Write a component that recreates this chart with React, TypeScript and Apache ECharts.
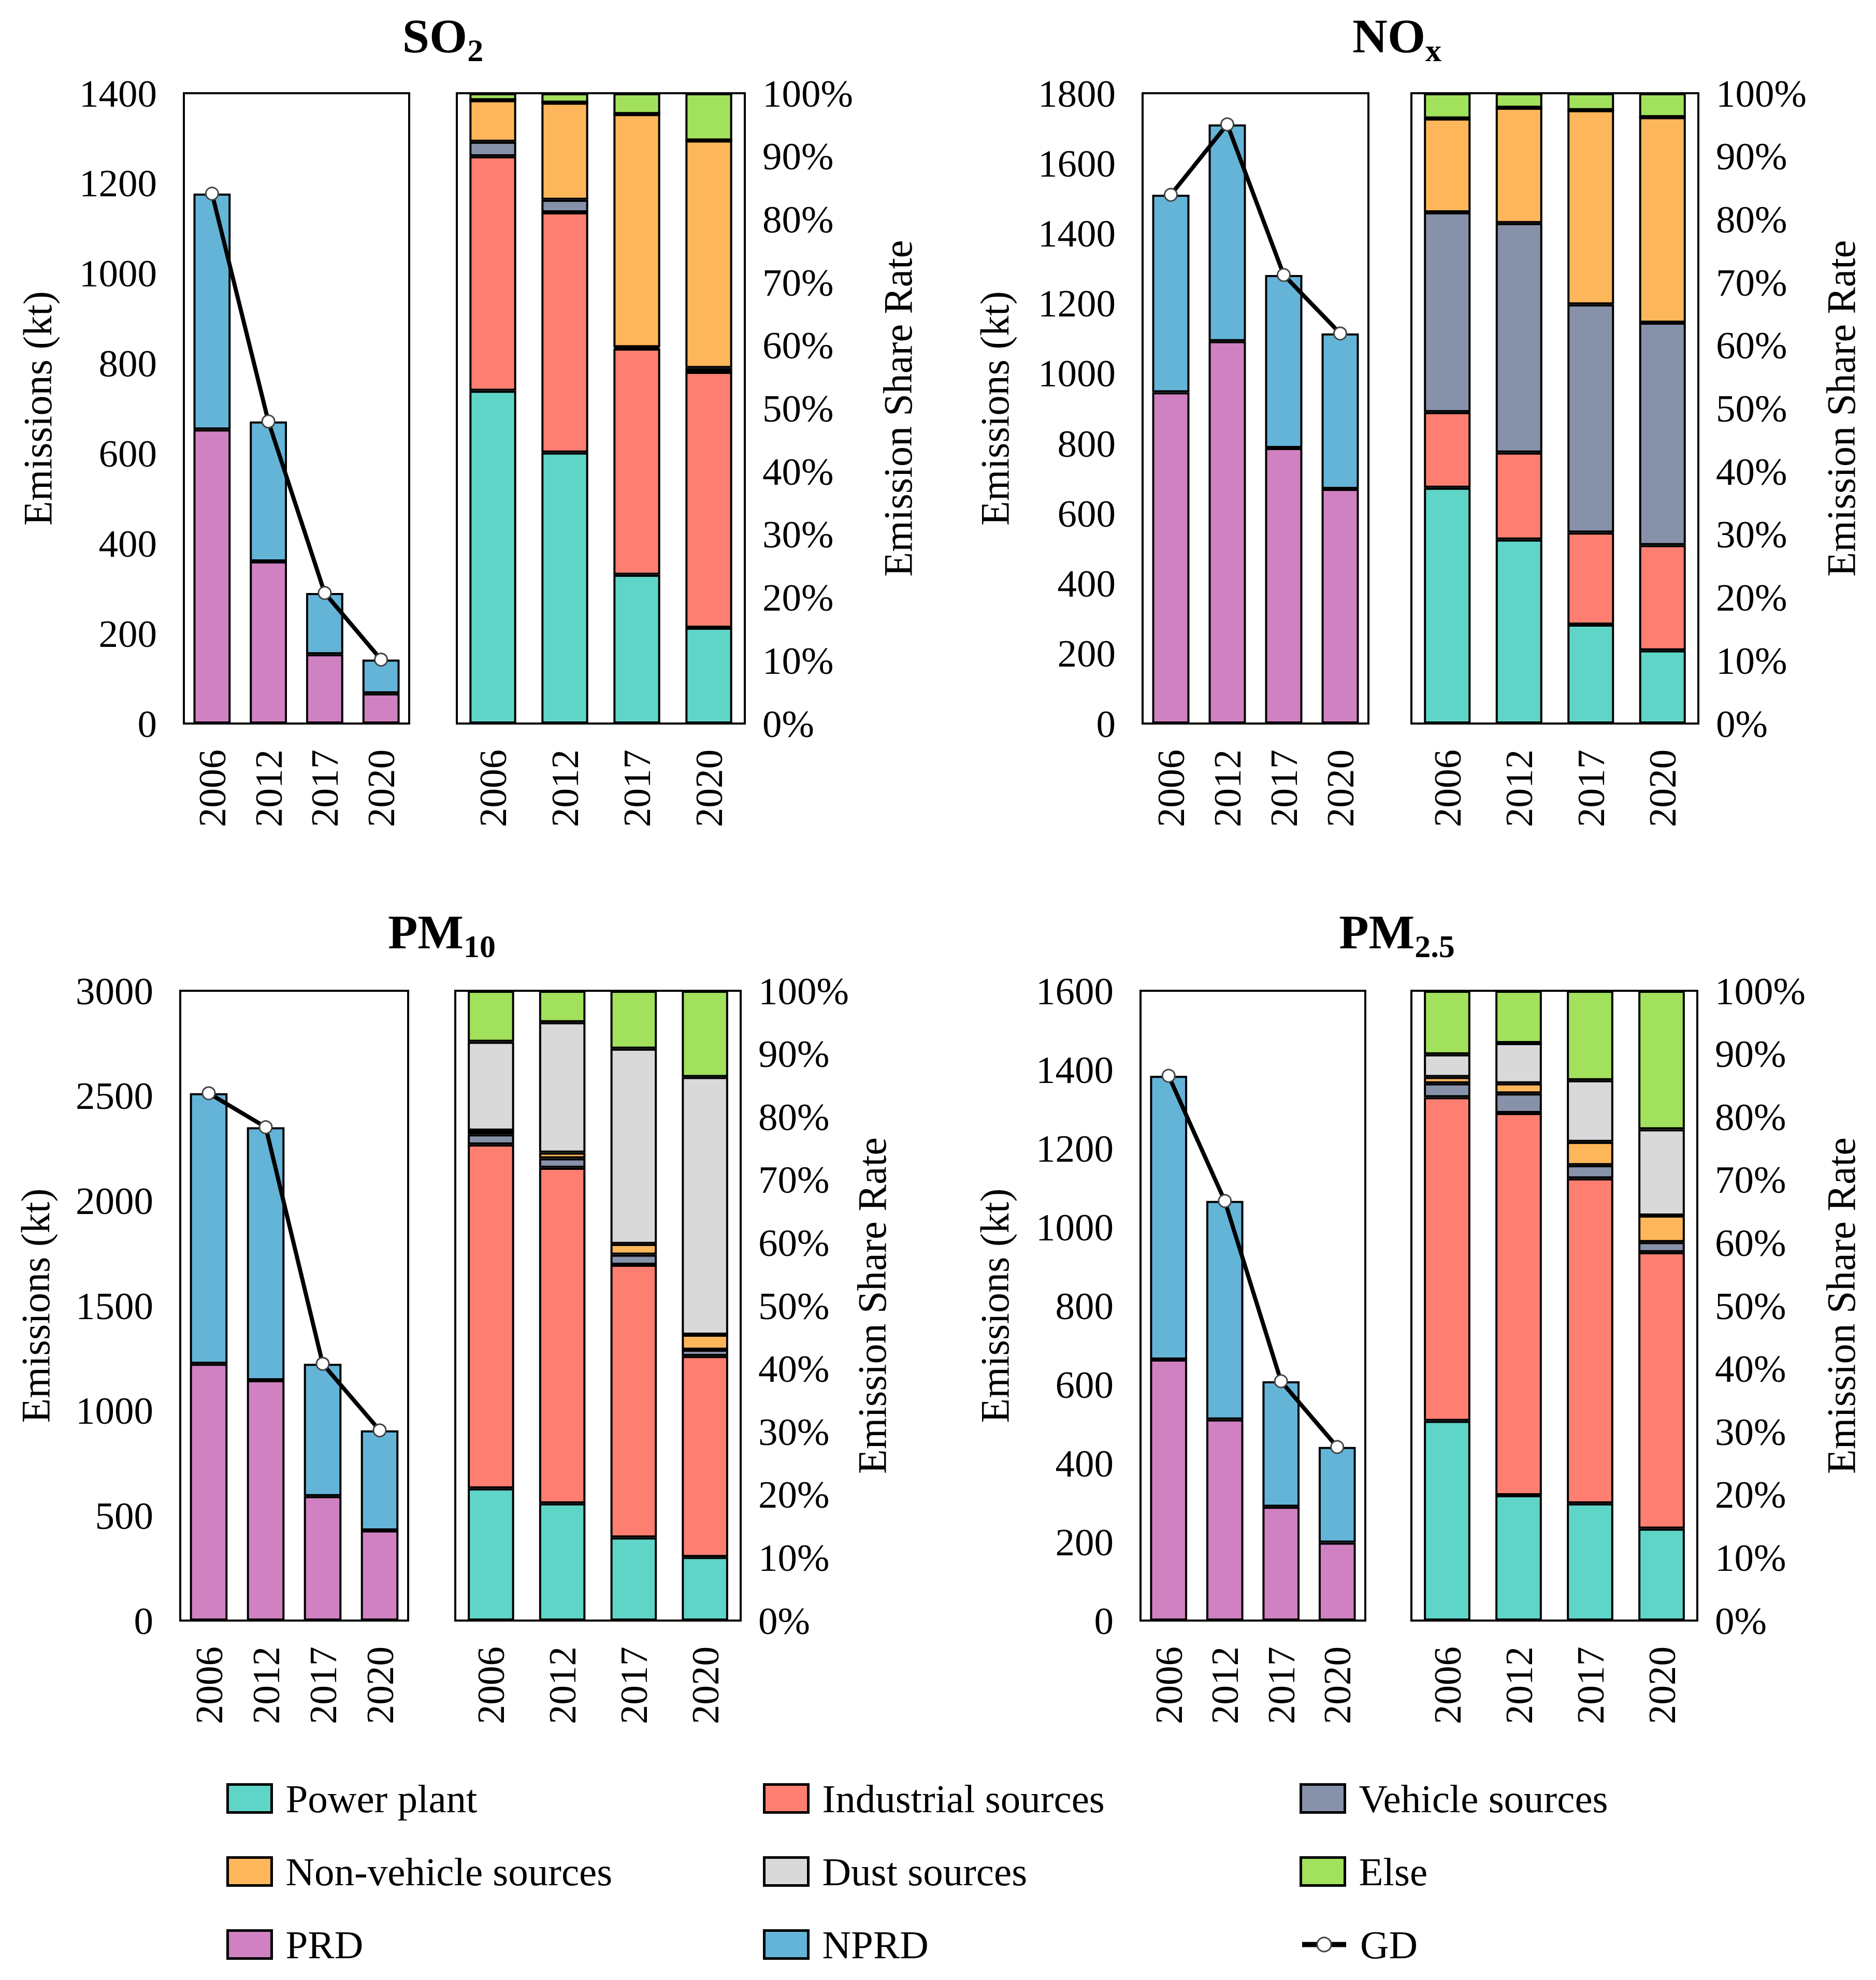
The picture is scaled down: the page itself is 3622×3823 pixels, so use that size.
import React, { useEffect, useRef } from 'react';
import * as echarts from 'echarts';

const years = ['2006', '2012', '2017', '2020'];
const sourceNames = ['Power plant', 'Industrial sources', 'Vehicle sources', 'Non-vehicle sources', 'Dust sources', 'Else'];
const sourceColors = ['#5fd5c7', '#fe7f71', '#8791aa', '#feb65b', '#d9d9d9', '#a2e15c'];
const prdColor = '#d081c1';
const npdColor = '#64b4d8';

// SO2 (kt)
const so2PRD = [653, 360, 154, 67];
const so2NPRD = [524, 311, 136, 75];
const so2GD = [1177, 671, 290, 142];
// SO2 shares (%)
const so2Power = [52.8, 43.0, 23.6, 15.2];
const so2Industrial = [37.2, 38.1, 35.9, 40.6];
const so2Vehicle = [2.3, 2.0, 0.2, 0.6];
const so2NonVehicle = [6.6, 15.4, 37.0, 36.1];
const so2Dust = [0, 0, 0, 0];
const so2Else = [1.1, 1.5, 3.3, 7.5];

// NOx (kt)
const noxPRD = [946, 1092, 787, 670];
const noxNPRD = [564, 619, 494, 444];
const noxGD = [1510, 1711, 1281, 1114];
const noxPower = [37.4, 29.2, 15.7, 11.6];
const noxIndustrial = [12.0, 13.8, 14.6, 16.7];
const noxVehicle = [31.7, 36.4, 36.2, 35.3];
const noxNonVehicle = [14.9, 18.3, 30.8, 32.6];
const noxDust = [0, 0, 0, 0];
const noxElse = [4.0, 2.3, 2.7, 3.8];

// PM10 (kt)
const pm10PRD = [1223, 1145, 593, 429];
const pm10NPRD = [1289, 1205, 630, 477];
const pm10GD = [2512, 2350, 1223, 906];
const pm10Power = [21.0, 18.6, 13.2, 10.1];
const pm10Industrial = [54.6, 53.3, 43.3, 31.9];
const pm10Vehicle = [1.6, 1.5, 1.6, 1.0];
const pm10NonVehicle = [0.6, 0.9, 1.7, 2.4];
const pm10Dust = [14.1, 20.7, 31.0, 40.9];
const pm10Else = [8.1, 5.0, 9.2, 13.7];

// PM2.5 (kt)
const pm25PRD = [663, 511, 289, 198];
const pm25NPRD = [721, 555, 319, 243];
const pm25GD = [1384, 1066, 608, 441];
const pm25Power = [31.7, 19.9, 18.6, 14.6];
const pm25Industrial = [51.4, 60.7, 51.6, 43.9];
const pm25Vehicle = [2.2, 3.1, 2.1, 1.6];
const pm25NonVehicle = [1.0, 1.6, 3.7, 4.2];
const pm25Dust = [3.6, 6.4, 9.8, 13.7];
const pm25Else = [10.1, 8.3, 14.2, 22.0];

const shareTicks = [0, 100, 10];

// legend layout: [name, column, row]
const legendItems: [string, number, number][] = [
  ['Power plant', 0, 0], ['Industrial sources', 1, 0], ['Vehicle sources', 2, 0],
  ['Non-vehicle sources', 0, 1], ['Dust sources', 1, 1], ['Else', 2, 1],
  ['PRD', 0, 2], ['NPRD', 1, 2], ['GD', 2, 2],
];

const FONT = '"Liberation Serif", "Times New Roman", serif';

const panels = [
  {
    main: 'SO', sub: '2', tx: 855, ty: 72,
    lx: 355, lw: 435, rx: 882, rw: 556, top: 180, h: 1217, lGap: 244, rGap: 256,
    max: 1400, interval: 200,
    prd: so2PRD, nprd: so2NPRD, gd: so2GD,
    shares: [so2Power, so2Industrial, so2Vehicle, so2NonVehicle, so2Dust, so2Else],
  },
  {
    main: 'NO', sub: 'x', tx: 2697, ty: 72,
    lx: 2206, lw: 436, rx: 2725, rw: 554, top: 180, h: 1217, lGap: 247, rGap: 236,
    max: 1800, interval: 200,
    prd: noxPRD, nprd: noxNPRD, gd: noxGD,
    shares: [noxPower, noxIndustrial, noxVehicle, noxNonVehicle, noxDust, noxElse],
  },
  {
    main: 'PM', sub: '10', tx: 853, ty: 1802,
    lx: 348, lw: 440, rx: 879, rw: 551, top: 1913, h: 1216, lGap: 241, rGap: 214,
    max: 3000, interval: 500,
    prd: pm10PRD, nprd: pm10NPRD, gd: pm10GD,
    shares: [pm10Power, pm10Industrial, pm10Vehicle, pm10NonVehicle, pm10Dust, pm10Else],
  },
  {
    main: 'PM', sub: '2.5', tx: 2697, ty: 1802,
    lx: 2202, lw: 434, rx: 2725, rw: 552, top: 1913, h: 1216, lGap: 243, rGap: 238,
    max: 1600, interval: 200,
    prd: pm25PRD, nprd: pm25NPRD, gd: pm25GD,
    shares: [pm25Power, pm25Industrial, pm25Vehicle, pm25NonVehicle, pm25Dust, pm25Else],
  },
];

function buildOption() {
  const grid: any[] = [];
  const xAxis: any[] = [];
  const yAxis: any[] = [];
  const series: any[] = [];
  const graphic: any[] = [];
  const labelStyle = { fontFamily: FONT, fontSize: 75, color: '#000' };
  const nameStyle = { fontFamily: FONT, fontSize: 78, color: '#000' };
  const barBorder = { borderColor: '#000', borderWidth: 4 };

  panels.forEach((p, i) => {
    const gl = i * 2;
    const gr = i * 2 + 1;
    grid.push({ left: p.lx, top: p.top, width: p.lw, height: p.h, show: true, borderColor: '#000', borderWidth: 4, backgroundColor: 'transparent' });
    grid.push({ left: p.rx, top: p.top, width: p.rw, height: p.h, show: true, borderColor: '#000', borderWidth: 4, backgroundColor: 'transparent' });
    [gl, gr].forEach((g) => {
      xAxis.push({
        type: 'category', gridIndex: g, data: years, boundaryGap: true,
        axisLine: { show: false }, axisTick: { show: false },
        axisLabel: { ...labelStyle, rotate: 90, margin: 50 },
      });
    });
    yAxis.push({
      type: 'value', gridIndex: gl, min: 0, max: p.max, interval: p.interval,
      axisLine: { show: false }, axisTick: { show: false }, splitLine: { show: false },
      axisLabel: { ...labelStyle, margin: 52, formatter: (v: number) => String(v) },
      name: 'Emissions (kt)', nameLocation: 'middle', nameRotate: 90, nameGap: p.lGap, nameTextStyle: nameStyle,
    });
    yAxis.push({
      type: 'value', gridIndex: gr, position: 'right', min: shareTicks[0], max: shareTicks[1], interval: shareTicks[2],
      axisLine: { show: false }, axisTick: { show: false }, splitLine: { show: false },
      axisLabel: { ...labelStyle, margin: 34, formatter: '{value}%' },
      name: 'Emission Share Rate', nameLocation: 'middle', nameRotate: 90, nameGap: p.rGap, nameTextStyle: nameStyle,
    });
    series.push({
      type: 'bar', name: 'PRD', xAxisIndex: gl, yAxisIndex: gl, stack: 'r' + i, data: p.prd,
      barCategoryGap: '34%', itemStyle: { color: prdColor, ...barBorder },
    });
    series.push({
      type: 'bar', name: 'NPRD', xAxisIndex: gl, yAxisIndex: gl, stack: 'r' + i, data: p.nprd,
      barCategoryGap: '34%', itemStyle: { color: npdColor, ...barBorder },
    });
    series.push({
      type: 'line', name: 'GD', xAxisIndex: gl, yAxisIndex: gl, data: p.gd, z: 5,
      symbol: 'circle', symbolSize: 24,
      lineStyle: { color: '#000', width: 8 },
      itemStyle: { color: '#fff', borderColor: '#444', borderWidth: 3 },
    });
    p.shares.forEach((arr, k) => {
      series.push({
        type: 'bar', name: sourceNames[k], xAxisIndex: gr, yAxisIndex: gr, stack: 's' + i, data: arr,
        barCategoryGap: '35%', itemStyle: { color: sourceColors[k], ...barBorder },
      });
    });
    graphic.push({
      type: 'text', x: p.tx, y: p.ty,
      style: {
        text: '{m|' + p.main + '}{s|' + p.sub + '}',
        align: 'center', verticalAlign: 'middle', fill: '#000',
        rich: {
          m: { fontFamily: FONT, fontSize: 94, fontWeight: 'bold', lineHeight: 100, verticalAlign: 'top', fill: '#000' },
          s: { fontFamily: FONT, fontSize: 62, fontWeight: 'bold', lineHeight: 62, verticalAlign: 'top', padding: [44, 0, 0, 0], fill: '#000' },
        },
      },
    });
  });

  const colX = [432, 1468, 2504];
  const rowY = [3429, 3570, 3711];
  const legend = legendItems.map(([name, c, r]) => {
    const isGD = name === 'GD';
    const item: any = isGD
      ? { name, lineStyle: { color: '#000', width: 10 }, itemStyle: { color: '#fff', borderColor: '#444', borderWidth: 3 } }
      : { name, icon: 'rect', itemStyle: { borderColor: '#000', borderWidth: 5 } };
    return {
      left: colX[c], top: rowY[r], itemWidth: 85, itemHeight: isGD ? 34 : 54, selectedMode: false,
      textStyle: { fontFamily: FONT, fontSize: 77, color: '#000', padding: [0, 0, 0, 22] },
      data: [item],
    };
  });

  return { animation: false, backgroundColor: '#fff', grid, xAxis, yAxis, series, legend, graphic };
}

export default function App() {
  const ref = useRef<HTMLDivElement>(null);
  useEffect(() => {
    document.body.style.margin = '0';
    const chart = echarts.init(ref.current as HTMLDivElement, undefined, { renderer: 'svg' });
    chart.setOption(buildOption() as any);
    return () => chart.dispose();
  }, []);
  return <div ref={ref} style={{ width: 3622, height: 3823 }} />;
}
